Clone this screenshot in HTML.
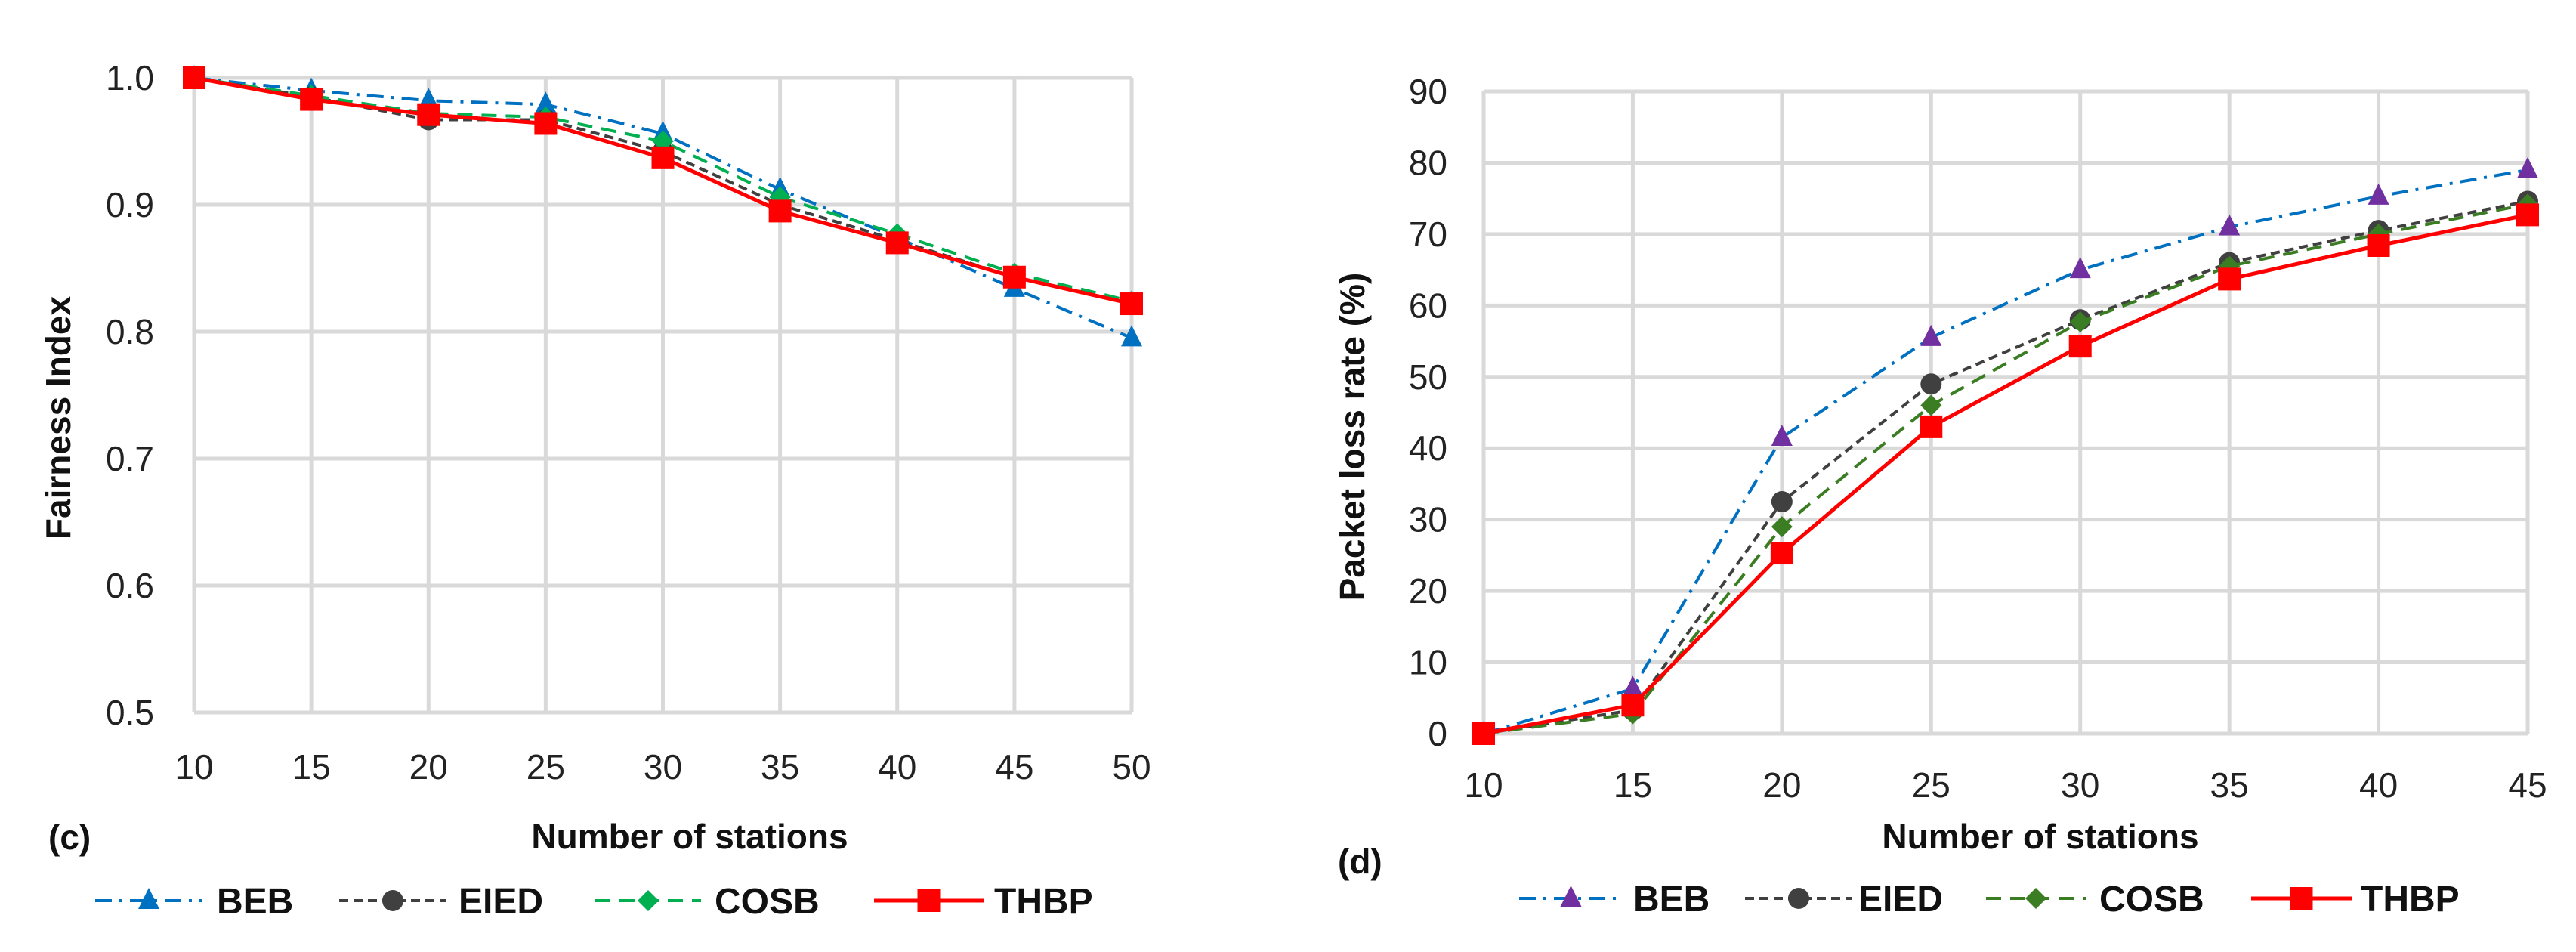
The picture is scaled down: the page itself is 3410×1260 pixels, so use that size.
<!DOCTYPE html>
<html><head><meta charset="utf-8"><style>
html,body{margin:0;padding:0;background:#fff}
svg{display:block}
text{font-family:"Liberation Sans",sans-serif}
.tick{font-size:46px;fill:#222}
.ttl{font-size:46px;font-weight:bold;fill:#111}
.leg{font-size:48px;font-weight:bold;fill:#111}
</style></head><body>
<svg id="chart" width="3410" height="1260" viewBox="0 0 3410 1260" xmlns="http://www.w3.org/2000/svg">
<g id="gc"></g>
<g id="gd"></g>
</svg>
<script>
const catsC=[10,15,20,25,30,35,40,45,50];
const yTicksC=["0.5","0.6","0.7","0.8","0.9","1.0"];
const cBEB=[1.0,0.99,0.982,0.979,0.956,0.912,0.874,0.834,0.795];
const cEIED=[1.0,0.985,0.967,0.967,0.942,0.900,0.872,0.843,0.822];
const cCOSB=[1.0,0.986,0.972,0.969,0.950,0.906,0.877,0.846,0.824];
const cTHBP=[1.0,0.983,0.971,0.964,0.937,0.895,0.870,0.843,0.822];
const catsD=[10,15,20,25,30,35,40,45];
const yTicksD=["0","10","20","30","40","50","60","70","80","90"];
const dBEB=[0,6.3,41.5,55.5,65,71,75.3,79];
const dEIED=[0,3.3,32.5,49,58,66,70.5,74.6];
const dCOSB=[0,2.8,29,46,57.7,65.5,70,74.2];
const dTHBP=[0,4,25.3,43,54.3,63.7,68.4,72.7];

const NS="http://www.w3.org/2000/svg";
function mk(parent,tag,attrs,txt){const e=document.createElementNS(NS,tag);for(const k in attrs)e.setAttribute(k,attrs[k]);if(txt!==undefined)e.textContent=txt;parent.appendChild(e);return e;}

function marker(g,shape,x,y,color){
  let e;
  if(shape==='tri'){e=mk(g,'polygon',{points:`${x},${y-17} ${x-14},${y+11} ${x+14},${y+11}`,fill:color});}
  else if(shape==='circ'){e=mk(g,'circle',{cx:x,cy:y,r:14,fill:color});}
  else if(shape==='dia'){e=mk(g,'polygon',{points:`${x},${y-14} ${x+14},${y} ${x},${y+14} ${x-14},${y}`,fill:color});}
  else {e=mk(g,'rect',{x:x-15,y:y-15,width:30,height:30,fill:color});}
  return e;
}

function draw(cfg){
  const g=document.getElementById(cfg.id);
  const sx=v=>cfg.x0+(v-cfg.cats[0])/(cfg.cats[cfg.cats.length-1]-cfg.cats[0])*(cfg.x1-cfg.x0);
  const ymin=parseFloat(cfg.yt[0]),ymax=parseFloat(cfg.yt[cfg.yt.length-1]);
  const sy=v=>cfg.y0-(v-ymin)/(ymax-ymin)*(cfg.y0-cfg.y1);
  const grid=mk(g,'g',{});
  
  
  cfg.yt.forEach(t=>{const y=sy(parseFloat(t));
    mk(grid,'line',{x1:cfg.x0,x2:cfg.x1,y1:y,y2:y,stroke:'#d9d9d9','stroke-width':5});
    const l=mk(g,'text',{x:cfg.ylx,y:y+16,'text-anchor':'end',class:'tick'},t);
    
    });
  cfg.cats.forEach(c=>{const x=sx(c);
    mk(grid,'line',{x1:x,x2:x,y1:cfg.y1,y2:cfg.y0,stroke:'#d9d9d9','stroke-width':5});
    const l=mk(g,'text',{x:x,y:cfg.xly,'text-anchor':'middle',class:'tick'},String(c));
    
    });
  cfg.series.forEach(s=>{
    const sg=mk(g,'g',{});
    
    
    const pts=s.vals.map((v,i)=>sx(cfg.cats[i])+','+sy(v)).join(' ');
    mk(sg,'polyline',{points:pts,fill:'none',stroke:s.line,'stroke-width':s.w,'stroke-dasharray':s.dash});
    s.vals.forEach((v,i)=>{const m=marker(sg,s.shape,sx(cfg.cats[i]),sy(v),s.mc);
      
      });
    // legend
    const lg=mk(g,'g',{});
    
    
    mk(lg,'line',{x1:s.lx0,x2:s.lx1,y1:cfg.legY,y2:cfg.legY,stroke:s.line,'stroke-width':s.w,'stroke-dasharray':s.dash});
    marker(lg,s.shape,(s.lx0+s.lx1)/2,cfg.legY,s.mc);
    mk(lg,'text',{x:s.tx,y:cfg.legY+17,class:'leg'},s.name);
  });
  const yt=mk(g,'text',{x:0,y:0,class:'ttl','text-anchor':'middle',transform:`translate(${cfg.ytx},${cfg.yty}) rotate(-90)`},cfg.ytitle);
  
  
  const xt=mk(g,'text',{x:cfg.xtx,y:1123,class:'ttl','text-anchor':'middle'},'Number of stations');
  
  
  const pl=mk(g,'text',{x:cfg.plx,y:cfg.ply,class:'ttl'},cfg.panel);
  
  
}

draw({id:'gc',cats:catsC,yt:yTicksC,x0:257,x1:1498,y0:943,y1:103,ylx:204,xly:1031,
  ytitle:'Fairness Index',ytx:93,yty:553,xtx:913,panel:'(c)',plx:64,ply:1124,legY:1192,
  series:[
   {name:'BEB',vals:cBEB,line:'#0070C0',mc:'#0070C0',dash:'22 10 4 10',w:4,shape:'tri',lx0:126,lx1:268,tx:287},
   {name:'EIED',vals:cEIED,line:'#404040',mc:'#404040',dash:'12 7',w:4,shape:'circ',lx0:449,lx1:591,tx:607},
   {name:'COSB',vals:cCOSB,line:'#00B050',mc:'#00B050',dash:'20 12',w:4,shape:'dia',lx0:788,lx1:928,tx:946},
   {name:'THBP',vals:cTHBP,line:'#FF0000',mc:'#FF0000',dash:'none',w:5,shape:'sq',lx0:1157,lx1:1302,tx:1316}]});

draw({id:'gd',cats:catsD,yt:yTicksD,x0:1964,x1:3346,y0:971,y1:121,ylx:1916,xly:1055,
  ytitle:'Packet loss rate (%)',ytx:1806,yty:578,xtx:2701,panel:'(d)',plx:1771,ply:1156,legY:1189,
  series:[
   {name:'BEB',vals:dBEB,line:'#0070C0',mc:'#7030A0',dash:'22 10 4 10',w:4,shape:'tri',lx0:2011,lx1:2148,tx:2162},
   {name:'EIED',vals:dEIED,line:'#404040',mc:'#404040',dash:'12 7',w:4,shape:'circ',lx0:2310,lx1:2452,tx:2460},
   {name:'COSB',vals:dCOSB,line:'#3B7D23',mc:'#3B7D23',dash:'20 12',w:4,shape:'dia',lx0:2629,lx1:2761,tx:2779},
   {name:'THBP',vals:dTHBP,line:'#FF0000',mc:'#FF0000',dash:'none',w:5,shape:'sq',lx0:2980,lx1:3113,tx:3125}]});
</script>
</body></html>
